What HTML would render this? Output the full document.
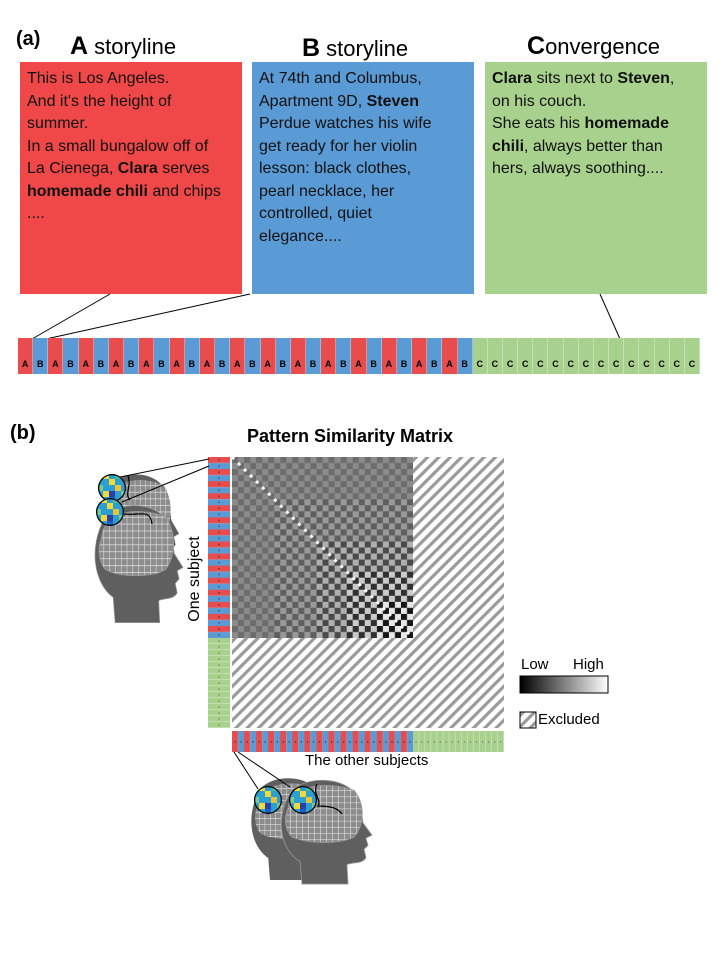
<!DOCTYPE html>
<html><head><meta charset="utf-8"><style>
body{margin:0;width:720px;height:960px;background:#fff;position:relative;overflow:hidden;font-family:"Liberation Sans",sans-serif}
.t{position:absolute;font-size:22px;color:#000}
.box{position:absolute;top:62px;width:222px;height:232px;box-sizing:border-box;padding:6px 7px;font-size:16px;line-height:22.5px;color:#111;white-space:nowrap;overflow:hidden}
.strip{position:absolute;left:18px;top:338px;width:682px;height:36px;display:flex}
.strip span{flex:1;font-size:9px;font-weight:bold;display:flex;align-items:center;justify-content:center;padding-top:16px;box-sizing:border-box;border-right:1px solid rgba(255,255,255,.35)}
.a{background:#e84c4c}.b{background:#5b9bd5}.c{background:#a9d18e}
</style></head><body>
<div class="t" style="left:16px;top:28px;font-weight:bold;font-size:20px">(a)</div>
<div class="t" style="left:70px;top:32px"><b style="font-size:25px">A</b> storyline</div>
<div class="t" style="left:302px;top:34px"><b style="font-size:25px">B</b> storyline</div>
<div class="t" style="left:527px;top:32px"><b style="font-size:25px">C</b>onvergence</div>
<div class="box" style="left:20px;background:#f04848">This is Los Angeles.<br>And it's the height of<br>summer.<br>In a small bungalow off of<br>La Cienega, <b>Clara</b> serves<br><b>homemade chili</b> and chips<br>....</div>
<div class="box" style="left:252px;background:#5b9bd5">At 74th and Columbus,<br>Apartment 9D, <b>Steven</b><br>Perdue watches his wife<br>get ready for her violin<br>lesson: black clothes,<br>pearl necklace, her<br>controlled, quiet<br>elegance....</div>
<div class="box" style="left:485px;background:#a9d18e"><b>Clara</b> sits next to <b>Steven</b>,<br>on his couch.<br>She eats his <b>homemade</b><br><b>chili</b>, always better than<br>hers, always soothing....</div>
<svg style="position:absolute;left:0;top:0" width="720" height="340">
<line x1="32" y1="339" x2="110" y2="294" stroke="#000" stroke-width="1"/>
<line x1="46" y1="339" x2="250" y2="294" stroke="#000" stroke-width="1"/>
<line x1="620" y1="339" x2="600" y2="294" stroke="#000" stroke-width="1"/>
</svg>
<div class="strip">
<span class="a">A</span><span class="b">B</span><span class="a">A</span><span class="b">B</span><span class="a">A</span><span class="b">B</span><span class="a">A</span><span class="b">B</span><span class="a">A</span><span class="b">B</span><span class="a">A</span><span class="b">B</span><span class="a">A</span><span class="b">B</span><span class="a">A</span><span class="b">B</span><span class="a">A</span><span class="b">B</span><span class="a">A</span><span class="b">B</span><span class="a">A</span><span class="b">B</span><span class="a">A</span><span class="b">B</span><span class="a">A</span><span class="b">B</span><span class="a">A</span><span class="b">B</span><span class="a">A</span><span class="b">B</span>
<span class="c">C</span><span class="c">C</span><span class="c">C</span><span class="c">C</span><span class="c">C</span><span class="c">C</span><span class="c">C</span><span class="c">C</span><span class="c">C</span><span class="c">C</span><span class="c">C</span><span class="c">C</span><span class="c">C</span><span class="c">C</span><span class="c">C</span>
</div>
<div class="t" style="left:10px;top:422px;font-weight:bold;font-size:20px">(b)</div>
<div class="t" style="left:247px;top:426px;font-weight:bold;font-size:18px">Pattern Similarity Matrix</div>
<div class="t" style="left:305px;top:752px;font-size:15px">The other subjects</div>
<div class="t" style="left:150px;top:570px;font-size:16px;transform:rotate(-90deg);transform-origin:center;width:90px;text-align:center">One subject</div>
<div class="t" style="left:521px;top:656px;font-size:15px">Low</div>
<div class="t" style="left:573px;top:656px;font-size:15px">High</div>
<div class="t" style="left:538px;top:711px;font-size:15px">Excluded</div>
<svg style="position:absolute;left:0;top:440px" width="720" height="520" viewBox="0 440 720 520">
<defs>
<pattern id="hatch" width="8" height="8" patternUnits="userSpaceOnUse" patternTransform="rotate(45)">
<rect width="8" height="8" fill="#fff"/><rect width="3.2" height="8" fill="#9a9a9a"/></pattern>
<pattern id="chk" x="232" y="457" width="12.07" height="12.07" patternUnits="userSpaceOnUse">
<rect width="12.07" height="12.07" fill="#fff"/>
<rect width="6.03" height="6.03" fill="#000"/><rect x="6.03" y="6.03" width="6.03" height="6.03" fill="#000"/></pattern>
<pattern id="vab" x="208" y="457" width="22" height="12.07" patternUnits="userSpaceOnUse">
<rect width="22" height="6.03" fill="#e84c4c"/><rect y="6.03" width="22" height="6.04" fill="#5b9bd5"/><circle cx="11" cy="3" r=".7" fill="#333"/><circle cx="11" cy="9" r=".7" fill="#333"/></pattern>
<pattern id="vc" x="208" y="638" width="22" height="6" patternUnits="userSpaceOnUse">
<rect width="22" height="6" fill="#a9d18e"/><rect y="5.4" width="22" height=".6" fill="#d6e8c8"/><circle cx="11" cy="3" r=".6" fill="#555"/></pattern>
<pattern id="hab" x="232" y="731" width="12.07" height="21" patternUnits="userSpaceOnUse">
<rect width="6.03" height="21" fill="#e84c4c"/><rect x="6.03" width="6.04" height="21" fill="#5b9bd5"/><circle cx="3" cy="11" r=".7" fill="#333"/><circle cx="9" cy="11" r=".7" fill="#333"/></pattern>
<pattern id="hc" x="413" y="731" width="6.06" height="21" patternUnits="userSpaceOnUse">
<rect width="6.06" height="21" fill="#a9d18e"/><rect x="5.5" width=".6" height="21" fill="#d6e8c8"/><circle cx="3" cy="11" r=".6" fill="#555"/></pattern>
<linearGradient id="lh" x1="0" x2="1"><stop offset="0" stop-color="#000"/><stop offset="1" stop-color="#fff"/></linearGradient>
<path id="head" d="M20 12 C36 -3 80 -2 88 24 L91 44 L100 56 L94 59 L96 66 L92 70 L94 78 C90 85 80 82 75 85 L76 104 L30 104 L28 82 C8 70 2 38 20 12 Z"/>
<clipPath id="cc1"><circle cx="0" cy="0" r="14"/></clipPath>
<pattern id="grid" width="6" height="6" patternUnits="userSpaceOnUse"><rect width="6" height="6" fill="#8c8c8c"/><path d="M0 0H6M0 0V6" stroke="#e0e0e0" stroke-width="1.2"/></pattern>
<g id="blob" clip-path="url(#cc1)">
<rect x="-15" y="-15" width="30" height="30" fill="#2a9fd0"/>
<rect x="-9" y="-15" width="6" height="6" fill="#f2d93a"/><rect x="-3" y="-9" width="6" height="6" fill="#f2d93a"/><rect x="3" y="-3" width="6" height="6" fill="#e8c23a"/>
<rect x="-15" y="-3" width="6" height="6" fill="#7cc79a"/><rect x="-3" y="3" width="6" height="6" fill="#2c3fa8"/><rect x="3" y="-15" width="6" height="6" fill="#4cb8a0"/>
<rect x="-9" y="3" width="6" height="6" fill="#f2d93a"/><rect x="9" y="3" width="6" height="6" fill="#7cc79a"/><rect x="-3" y="9" width="6" height="6" fill="#1f5fc0"/>
<circle cx="0" cy="0" r="13.5" fill="none" stroke="#000" stroke-width="1.5"/></g>
<g id="headfull"><use href="#head" fill="#5f5f5f"/><path d="M16 30 C18 8 52 2 82 12 C94 26 92 48 82 58 C70 64 40 66 20 58 C12 50 12 38 16 30Z" fill="url(#grid)"/></g>
</defs>
<!-- matrix -->
<rect x="232" y="457" width="272" height="271" fill="url(#hatch)"/>
<rect x="232" y="457" width="181" height="181" fill="#7b7b7b"/>
<rect x="232" y="457" width="181" height="181" fill="url(#chk)" opacity="0.12"/>
<rect x="274.2" y="499.2" width="138.8" height="138.8" fill="url(#chk)" opacity="0.12"/>
<rect x="316.4" y="541.4" width="96.6" height="96.6" fill="url(#chk)" opacity="0.22"/>
<rect x="346.6" y="571.6" width="66.4" height="66.4" fill="url(#chk)" opacity="0.35"/>
<rect x="376.8" y="601.8" width="36.2" height="36.2" fill="url(#chk)" opacity="0.55"/>
<line x1="232" y1="457" x2="413" y2="638" stroke="#fff" stroke-width="3" stroke-dasharray="3 5.53"/>
<rect x="208" y="457" width="22" height="181" fill="url(#vab)"/>
<rect x="208" y="638" width="22" height="90" fill="url(#vc)"/>
<rect x="232" y="731" width="181" height="21" fill="url(#hab)"/>
<rect x="413" y="731" width="91" height="21" fill="url(#hc)"/>
<!-- legend -->
<rect x="520" y="676" width="88" height="17" fill="url(#lh)" stroke="#000" stroke-width="1"/>
<rect x="520" y="712" width="16" height="16" fill="url(#hatch)" stroke="#000" stroke-width="1"/>
<!-- top heads -->
<g transform="translate(94,472) scale(0.85,1.1)"><use href="#headfull"/></g>
<g transform="translate(86,503) scale(0.97,1.15)"><use href="#headfull" stroke="#999" stroke-width=".7"/></g>
<use href="#blob" transform="translate(112,488)"/>
<use href="#blob" transform="translate(110,512)"/>
<line x1="120" y1="477" x2="209" y2="459" stroke="#000" stroke-width="1"/>
<line x1="122" y1="502" x2="209" y2="466" stroke="#000" stroke-width="1"/>
<path d="M128 476 C132 486 124 494 130 500 M124 514 C140 516 150 508 152 524" fill="none" stroke="#000" stroke-width="1.2"/>
<!-- bottom heads -->
<g transform="translate(243,776) scale(0.9,1.0)"><use href="#headfull"/></g>
<g transform="translate(272,778) scale(1.0,1.02)"><use href="#headfull" stroke="#999" stroke-width=".8"/></g>
<use href="#blob" transform="translate(268,800)"/>
<use href="#blob" transform="translate(303,800)"/>
<line x1="234" y1="752" x2="258" y2="789" stroke="#000" stroke-width="1"/>
<line x1="238" y1="752" x2="290" y2="787" stroke="#000" stroke-width="1"/>
<path d="M317 784 C312 794 322 800 318 806 C330 806 338 808 342 814" fill="none" stroke="#000" stroke-width="1.2"/>
</svg>
</body></html>
